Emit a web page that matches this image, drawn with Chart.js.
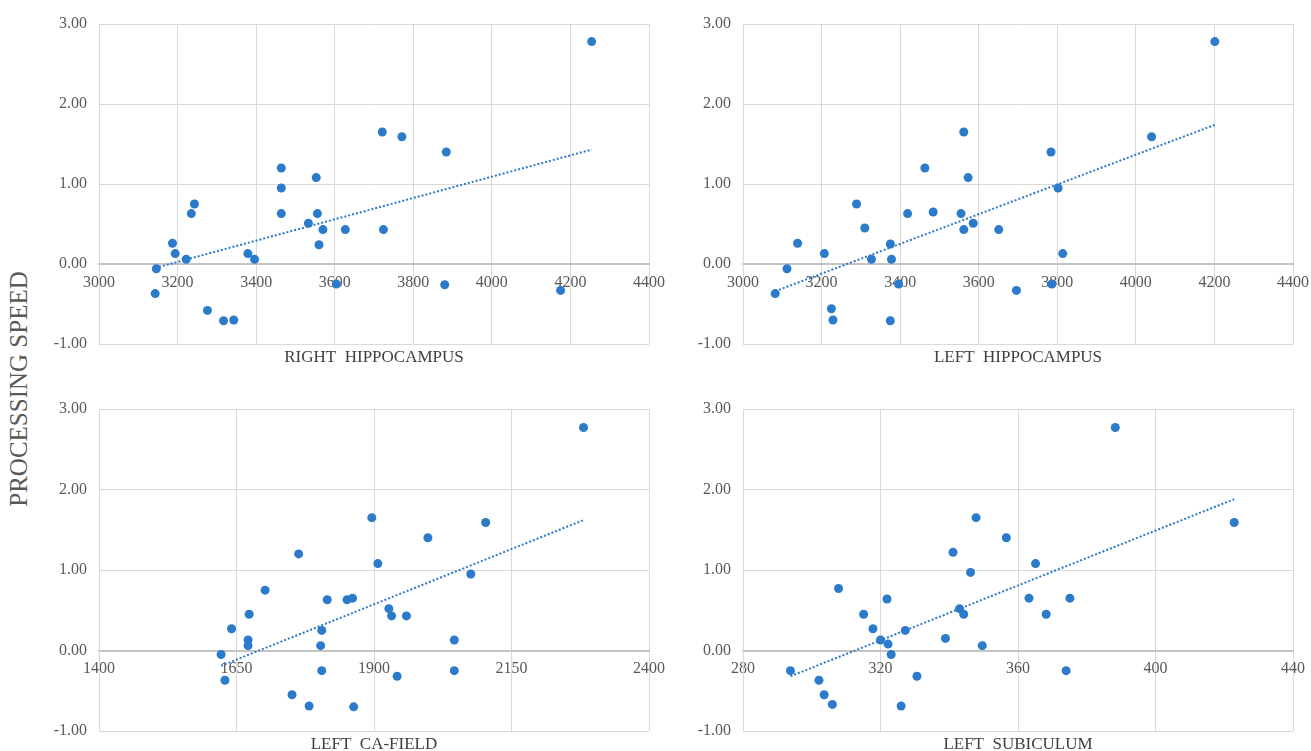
<!DOCTYPE html>
<html>
<head>
<meta charset="utf-8">
<script src="https://cdn.jsdelivr.net/npm/chart.js@4.4.0/dist/chart.umd.min.js"></script>
<style>
  html, body { margin: 0; padding: 0; background: #fff; overflow: hidden; }
  body { width: 1311px; height: 751px; position: relative; }
  canvas { position: absolute; }
  #yTitle {
    position: absolute; left: 19px; top: 389px;
    transform: translate(-50%, -50%) rotate(-90deg);
    font: 25px 'Liberation Serif', 'Times New Roman', serif;
    color: #595959; white-space: nowrap;
  }
</style>
</head>
<body>
<div id="yTitle">PROCESSING SPEED</div>
<canvas id="rhChart" width="690" height="380" style="left:0;top:0"></canvas>
<canvas id="lhChart" width="660" height="380" style="left:690px;top:0"></canvas>
<canvas id="caChart" width="690" height="368" style="left:0;top:385px"></canvas>
<canvas id="subChart" width="660" height="368" style="left:690px;top:385px"></canvas>
<script>
// y axis, shared by all panels
const yTicks = [-1, 0, 1, 2, 3];

// RIGHT HIPPOCAMPUS
const rhTicks = [3000, 3200, 3400, 3600, 3800, 4000, 4200, 4400];
const rhX = [4254, 3721, 3771, 3884, 3464, 3553, 3464, 3243, 3235, 3464, 3556, 3533, 3570, 3627, 3724,
    3560, 3187, 3194, 3379, 3222, 3396, 3146, 3143, 3604, 3880, 4175, 3276, 3317, 3343];
const rhY = [2.78, 1.65, 1.59, 1.40, 1.20, 1.08, 0.95, 0.75, 0.63, 0.63, 0.63, 0.51, 0.43, 0.43, 0.43,
    0.24, 0.26, 0.13, 0.13, 0.06, 0.06, -0.06, -0.37, -0.25, -0.26, -0.33, -0.58, -0.71, -0.70];
const rhTrendX = [3143, 4254];
const rhTrendY = [-0.05, 1.43];

// LEFT HIPPOCAMPUS
const lhTicks = [3000, 3200, 3400, 3600, 3800, 4000, 4200, 4400];
const lhX = [4201, 3562, 4040, 3784, 3463, 3573, 3802, 3289, 3419, 3484, 3555, 3586, 3310, 3562, 3651,
    3139, 3375, 3207, 3814, 3327, 3378, 3112, 3082, 3396, 3786, 3696, 3225, 3229, 3375];
const lhY = [2.78, 1.65, 1.59, 1.40, 1.20, 1.08, 0.95, 0.75, 0.63, 0.65, 0.63, 0.51, 0.45, 0.43, 0.43,
    0.26, 0.25, 0.13, 0.13, 0.06, 0.06, -0.06, -0.37, -0.25, -0.25, -0.33, -0.56, -0.70, -0.71];
const lhTrendX = [3082, 4201];
const lhTrendY = [-0.34, 1.74];

// LEFT CA-FIELD
const caTicks = [1400, 1650, 1900, 2150, 2400];
const caX = [2281, 1896, 2103, 1998, 1763, 1907, 2076, 1702, 1815, 1851, 1861, 1927, 1932, 1959, 1673,
    1641, 1805, 1671, 2046, 1671, 1803, 1622, 1629, 1805, 2046, 1942, 1751, 1782, 1863];
const caY = [2.77, 1.65, 1.59, 1.40, 1.20, 1.08, 0.95, 0.75, 0.63, 0.63, 0.65, 0.52, 0.43, 0.43, 0.45,
    0.27, 0.25, 0.13, 0.13, 0.06, 0.06, -0.05, -0.37, -0.25, -0.25, -0.32, -0.55, -0.69, -0.70];
const caTrendX = [1622, 2281];
const caTrendY = [-0.19, 1.62];

// LEFT SUBICULUM
const subTicks = [280, 320, 360, 400, 440];
const subX = [388.3, 347.8, 422.9, 356.6, 341.1, 365.1, 346.2, 307.8, 321.9, 363.2, 375.1, 343.0, 344.2, 315.1, 368.2,
    317.8, 327.2, 320.0, 338.9, 322.2, 349.6, 323.1, 302.1, 293.8, 374.0, 330.6, 303.6, 306.0, 326.0];
const subY = [2.77, 1.65, 1.59, 1.40, 1.22, 1.08, 0.97, 0.77, 0.64, 0.65, 0.65, 0.52, 0.45, 0.45, 0.45,
    0.27, 0.25, 0.13, 0.15, 0.08, 0.06, -0.05, -0.37, -0.25, -0.25, -0.32, -0.55, -0.67, -0.69];
const subTrendX = [293.8, 422.9];
const subTrendY = [-0.32, 1.88];

const FONT = "'Liberation Serif', 'Times New Roman', serif";
const BLUE = '#2b7bca';
const TEXT = '#595959';
const GRID = '#d9d9d9';

function toPoints(xs, ys) {
    return xs.map((x, i) => ({ x: x, y: ys[i] }));
}

function makeChart(id, p) {
    const ctx = document.getElementById(id).getContext('2d');
    return new Chart(ctx, {
        type: 'scatter',
        data: {
            datasets: [{
                type: 'line',
                data: toPoints(p.trendX, p.trendY),
                borderColor: BLUE,
                borderWidth: 2,
                borderDash: [2, 2],
                pointRadius: 0,
                fill: false
            }, {
                data: toPoints(p.xs, p.ys),
                backgroundColor: BLUE,
                borderWidth: 0,
                pointRadius: 4.5
            }]
        },
        options: {
            responsive: false,
            animation: false,
            layout: {
                autoPadding: false,
                padding: { left: 0, right: p.padRight, top: 24, bottom: p.padBottom }
            },
            plugins: {
                legend: { display: false },
                tooltip: { enabled: false },
                title: {
                    display: true,
                    text: p.title,
                    position: 'bottom',
                    fullSize: false,
                    color: '#404040',
                    font: { family: FONT, size: 17, weight: 'normal', lineHeight: 1 },
                    padding: { top: p.titleGap, bottom: 0 }
                }
            },
            scales: {
                x: {
                    type: 'linear',
                    position: { y: 0 },
                    min: p.ticks[0],
                    max: p.ticks[p.ticks.length - 1],
                    afterBuildTicks: s => { s.ticks = p.ticks.map(v => ({ value: v })); },
                    afterFit: s => { s.height = 0; },
                    grid: { color: GRID, lineWidth: 1, drawTicks: false },
                    border: { color: '#c4c4c4', width: 2 },
                    ticks: {
                        color: TEXT,
                        font: { family: FONT, size: 16 },
                        padding: 9,
                        maxRotation: 0,
                        autoSkip: false,
                        callback: v => String(v)
                    }
                },
                y: {
                    min: yTicks[0],
                    max: yTicks[yTicks.length - 1],
                    afterBuildTicks: s => { s.ticks = yTicks.map(v => ({ value: v })); },
                    afterFit: s => { s.width = p.yWidth; },
                    grid: { color: GRID, lineWidth: 1, drawTicks: false },
                    border: { color: GRID, width: 1 },
                    ticks: {
                        color: TEXT,
                        font: { family: FONT, size: 16 },
                        padding: 12,
                        callback: v => v.toFixed(2)
                    }
                }
            }
        }
    });
}

makeChart('rhChart', {
    xs: rhX, ys: rhY, trendX: rhTrendX, trendY: rhTrendY, ticks: rhTicks,
    title: 'RIGHT  HIPPOCAMPUS', yWidth: 99, padRight: 41, padBottom: 13.5, titleGap: 5.5
});
makeChart('lhChart', {
    xs: lhX, ys: lhY, trendX: lhTrendX, trendY: lhTrendY, ticks: lhTicks,
    title: 'LEFT  HIPPOCAMPUS', yWidth: 53, padRight: 57, padBottom: 13.5, titleGap: 5.5
});
makeChart('caChart', {
    xs: caX, ys: caY, trendX: caTrendX, trendY: caTrendY, ticks: caTicks,
    title: 'LEFT  CA-FIELD', yWidth: 99, padRight: 41, padBottom: 0, titleGap: 5
});
makeChart('subChart', {
    xs: subX, ys: subY, trendX: subTrendX, trendY: subTrendY, ticks: subTicks,
    title: 'LEFT  SUBICULUM', yWidth: 53, padRight: 57, padBottom: 0, titleGap: 5
});
</script>
</body>
</html>
